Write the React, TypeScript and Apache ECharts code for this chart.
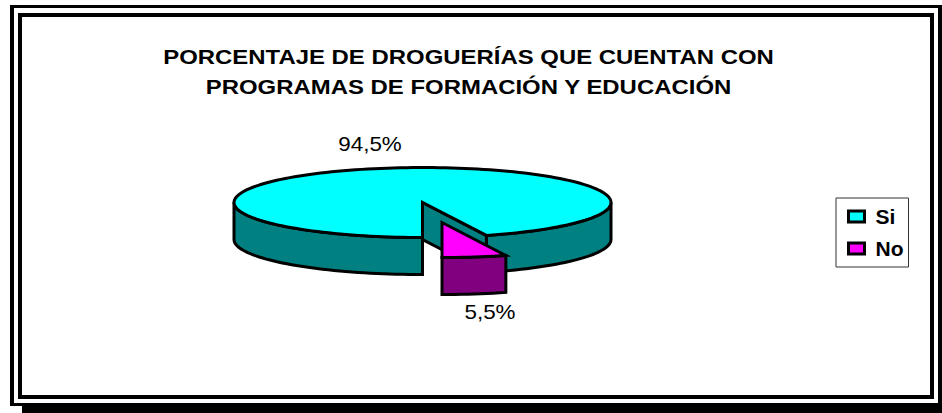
import React, { useEffect, useRef } from "react";
import * as echarts from "echarts";

const categories = ["Si", "No"];
const values = [94.5, 5.5];
const topColors = ["#00FFFF", "#FF00FF"];
const wallColors = ["#008080", "#800080"];
const titleText = "PORCENTAJE DE DROGUERÍAS QUE CUENTAN CON\nPROGRAMAS DE FORMACIÓN Y EDUCACIÓN";

const CX = 422.5, CY = 202.5, RX = 188.5, RY = 35, DEPTH = 37, START = 180;
const offsets = [[0, 0], [19.5, 20]];
const labelPos = [[370, 144], [490, 312]];
const total = values.reduce((a, b) => a + b, 0);

const LINE = { stroke: "#000", lineWidth: 3, lineJoin: "miter", miterLimit: 6 };

function arc(from: number, to: number, ox: number, oy: number) {
  const pts: number[][] = [];
  const n = Math.max(2, Math.ceil(Math.abs(to - from) / 2));
  for (let i = 0; i <= n; i++) {
    const t = ((from + ((to - from) * i) / n) * Math.PI) / 180;
    pts.push([CX + ox + RX * Math.sin(t), CY + oy - RY * Math.cos(t)]);
  }
  return pts;
}

function wedge(idx: number, value: number, label: string) {
  const before = values.slice(0, idx).reduce((a, b) => a + b, 0);
  const a0 = START + (before / total) * 360;
  const a1 = a0 + (value / total) * 360;
  const [ox, oy] = offsets[idx];
  const children: any[] = [];
  // the lower half of the rim (90..270 degrees, also one turn on) is what shows
  for (const [lo, hi] of [[90, 270], [450, 630]]) {
    const f = Math.max(a0, lo), t = Math.min(a1, hi);
    if (t <= f) continue;
    const top = arc(f, t, ox, oy);
    const bottom = top.map(([x, y]) => [x, y + DEPTH]).reverse();
    children.push({
      type: "polygon",
      shape: { points: top.concat(bottom) },
      style: { fill: wallColors[idx], ...LINE },
    });
  }
  // inner cut face at the end of the sweep, when it faces the viewer
  const endRad = ((a1 % 360) * Math.PI) / 180;
  if (Math.sin(endRad) > 0.01 && Math.cos(endRad) < 0) {
    const [p] = arc(a1, a1 + 1, ox, oy);
    const c = [CX + ox, CY + oy];
    children.push({
      type: "polygon",
      shape: { points: [c, p, [p[0], p[1] + DEPTH], [c[0], c[1] + DEPTH]] },
      style: { fill: wallColors[idx], ...LINE },
    });
  }
  children.push({
    type: "polygon",
    shape: { points: [[CX + ox, CY + oy], ...arc(a0, a1, ox, oy)] },
    style: { fill: topColors[idx], ...LINE },
  });
  children.push({
    type: "text",
    x: labelPos[idx][0],
    y: labelPos[idx][1],
    scaleX: 1.12,
    style: {
      text: label,
      fill: "#000",
      font: '20px "Liberation Sans", Arial, sans-serif',
      align: "center",
      verticalAlign: "middle",
    },
  });
  return { type: "group", children };
}

function box(x: number, y: number, w: number, h: number) {
  return { type: "rect", shape: { x, y, width: w, height: h }, style: { fill: "#000" }, silent: true };
}

export default function App() {
  const ref = useRef<HTMLDivElement>(null);
  useEffect(() => {
    const chart = echarts.init(ref.current!, null, { renderer: "svg" });
    chart.setOption({
      animation: false,
      backgroundColor: "#fff",
      legend: {
        orient: "vertical",
        left: 836,
        top: 198,
        padding: [8, 5, 8, 11],
        itemGap: 11,
        itemWidth: 16,
        itemHeight: 11,
        icon: "rect",
        borderColor: "#333",
        borderWidth: 1,
        data: categories,
        textStyle: { color: "#000", fontSize: 21, fontWeight: "bold", fontFamily: '"Liberation Sans", Arial, sans-serif', padding: [0, 0, 0, 6] },
        itemStyle: { borderColor: "#000", borderWidth: 3 },
      },
      graphic: [
        box(10, 5, 932, 3), box(10, 5, 4, 401), box(938, 5, 4, 407), box(10, 403, 12, 3), box(22, 403, 920, 10),
        box(18, 13, 916, 4), box(18, 13, 4, 386), box(930, 13, 4, 386), box(18, 395, 916, 4),
        {
          type: "text",
          x: 468.5,
          y: 72,
          scaleX: 1.197,
          style: {
            text: titleText,
            fill: "#000",
            font: 'bold 20px "Liberation Sans", Arial, sans-serif',
            lineHeight: 30,
            align: "center",
            verticalAlign: "middle",
          },
        },
      ],
      series: categories.map((name, i) => ({
        type: "custom",
        name,
        coordinateSystem: "none",
        itemStyle: { color: topColors[i] },
        data: [values[i]],
        clip: false,
        renderItem: (_p: any, api: any) =>
          wedge(i, api.value(0), `${String(api.value(0)).replace(".", ",")}%`),
      })),
    });
    return () => chart.dispose();
  }, []);
  return <div ref={ref} style={{ position: "absolute", left: 0, top: 0, width: 942, height: 413 }} />;
}
